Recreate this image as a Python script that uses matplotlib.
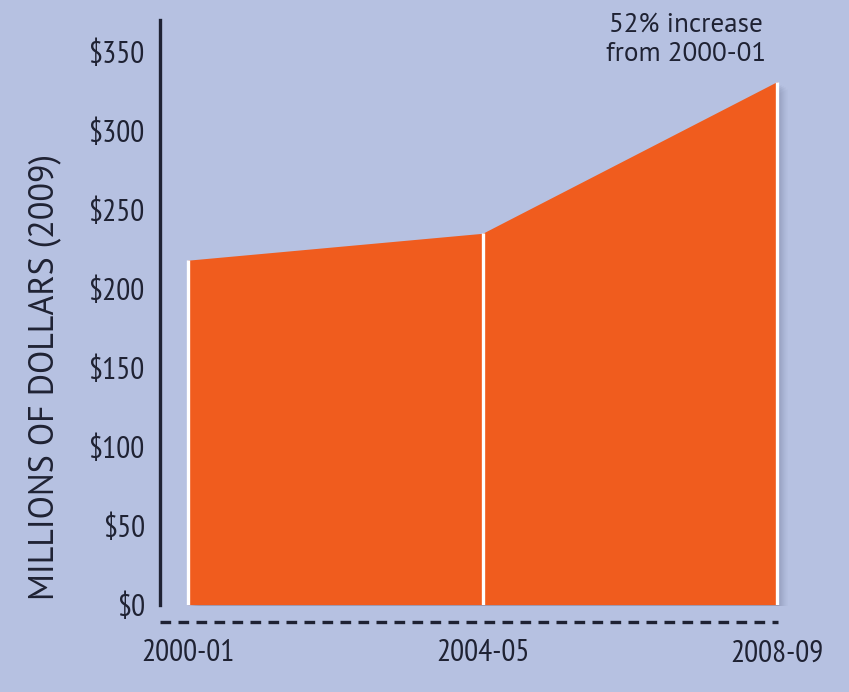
import matplotlib
matplotlib.use("Agg")
import matplotlib.pyplot as plt
import matplotlib.transforms as mtransforms
from matplotlib.lines import Line2D

# ---- data ----
periods = ["2000-01", "2004-05", "2008-09"]
values = [218, 235, 331]          # millions of dollars (2009)
yticks = [0, 50, 100, 150, 200, 250, 300, 350]
ytick_labels = ["$0", "$50", "$100", "$150", "$200", "$250", "$300", "$350"]
ylabel = "MILLIONS OF DOLLARS (2009)"
note = "52% increase\nfrom 2000-01"

BG = "#b6c1e1"
ORANGE = "#f05c1e"
TXT = "#1f2233"
NARROW = ["PT Sans Narrow", "Liberation Sans", "DejaVu Sans"]
REGULAR = ["PT Sans", "Open Sans", "DejaVu Sans"]

W, H = 849, 692
fig = plt.figure(figsize=(W / 100, H / 100), dpi=100, facecolor=BG)

# axes placed in pixel coordinates
left_px, right_px, top_px, zero_px = 160, 800, 20, 604.6
ax = fig.add_axes([left_px / W, (H - zero_px) / H,
                   (right_px - left_px) / W, (zero_px - top_px) / H])
ax.set_facecolor(BG)

x = list(range(len(periods)))
px_per_unit = (777 - 188) / 2.0
ax.set_xlim((left_px - 188) / px_per_unit, (right_px - 188) / px_per_unit)
ax.set_ylim(0, (zero_px - top_px) / 1.58)

# soft drop shadow
for dx, dy, a in [(10, -7, 0.05), (8, -5, 0.07), (6, -4, 0.09), (4, -3, 0.10), (2, -1, 0.10)]:
    tr = mtransforms.offset_copy(ax.transData, fig=fig, x=dx, y=dy, units="dots")
    ax.fill_between(x, 0, values, color="#5f6888", alpha=a, lw=0, transform=tr, zorder=1)

ax.fill_between(x, 0, values, color=ORANGE, lw=0, zorder=2)
ax.vlines(x, 0, values, colors="white", lw=2.4, zorder=3)

ax.set_yticks(yticks)
ax.set_yticklabels(ytick_labels)
ax.set_xticks(x)
ax.set_xticklabels(periods)
ax.tick_params(axis="both", length=0, colors=TXT)
ax.tick_params(axis="y", pad=11)
ax.tick_params(axis="x", pad=25)
for lab in ax.get_yticklabels() + ax.get_xticklabels():
    lab.set_fontfamily(NARROW)
    lab.set_fontsize(22.5)
    lab.set_color(TXT)

for s in ["top", "right", "bottom"]:
    ax.spines[s].set_visible(False)
ax.spines["left"].set_color(TXT)
ax.spines["left"].set_linewidth(2.4)

# dashed baseline
ax.add_line(Line2D([0, (778 - left_px) / (right_px - left_px)], [-0.029, -0.029],
                   transform=ax.transAxes, color=TXT, lw=2.4,
                   linestyle=(0, (3.2, 2.2)), clip_on=False))

ax.set_ylabel(ylabel, fontsize=24.5, color=TXT, family=REGULAR)
ax.yaxis.set_label_coords(-0.155, 0.39, transform=ax.transAxes)

fig.text(686 / W, 1 - 39 / H, note, ha="center", va="center", fontsize=19.5,
         color=TXT, family=REGULAR, linespacing=1.3)

fig.savefig("out.png", dpi=100, facecolor=BG)
